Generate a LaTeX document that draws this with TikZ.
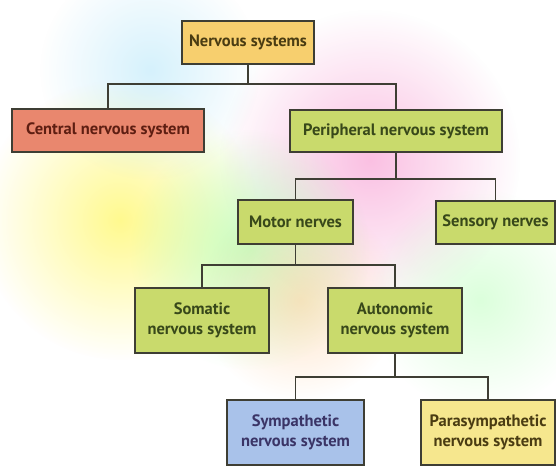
\documentclass[tikz,border=0pt]{standalone}
\usepackage{fontspec}
\setmainfont{PT Sans}
\usetikzlibrary{fadings}
\definecolor{edgec}{HTML}{3E3E34}
\definecolor{orangebox}{HTML}{F7CF6E}
\definecolor{redbox}{HTML}{E9876E}
\definecolor{greenbox}{HTML}{C9DA6C}
\definecolor{bluebox}{HTML}{A9C2EA}
\definecolor{yellowbox}{HTML}{F6E78E}
\definecolor{txtolive}{HTML}{4A3C12}
\definecolor{txtred}{HTML}{5E1E12}
\definecolor{txtgreen}{HTML}{38481A}
\definecolor{txtblue}{HTML}{3A3466}
\tikzfading[name=softfade, inner color=transparent!0, outer color=transparent!100]
\tikzset{
  box/.style={draw=edgec, line width=1.4pt, rectangle, inner sep=0pt,
    align=center, font=\fontsize{16.5}{19.5}\selectfont\bfseries},
  link/.style={draw=edgec, line width=1.4pt},
  blob/.style={path fading=softfade, opacity=0.55}
}
\begin{document}
\begin{tikzpicture}[x=1pt,y=-1pt]
\useasboundingbox (0,0) rectangle (556,470);
\fill[white] (0,0) rectangle (556,470);
% soft coloured background
\fill[blob, magenta!45] (370,160) circle (150);
\fill[blob, yellow!80] (120,220) circle (140);
\fill[blob, green!40] (250,250) circle (120);
\fill[blob, cyan!30] (150,70) circle (110);
\fill[blob, orange!40] (300,300) circle (100);
\fill[blob, green!25] (480,300) circle (110);

\node[box, fill=orangebox, text=txtolive, minimum width=132pt, minimum height=43pt] (ns) at (248,42.5) {Nervous systems};
\node[box, fill=redbox, text=txtred, minimum width=192pt, minimum height=43pt] (cns) at (108,130.5) {Central nervous system};
\node[box, fill=greenbox, text=txtgreen, minimum width=212pt, minimum height=42pt] (pns) at (396,131) {Peripheral nervous system};
\node[box, fill=greenbox, text=txtgreen, minimum width=115pt, minimum height=44pt] (mn) at (295.5,222) {Motor nerves};
\node[box, fill=greenbox, text=txtgreen, minimum width=119pt, minimum height=43pt] (sn) at (495.5,222.5) {Sensory nerves};
\node[box, fill=greenbox, text=txtgreen, minimum width=134pt, minimum height=65pt] (som) at (202,320.5) {Somatic\\nervous system};
\node[box, fill=greenbox, text=txtgreen, minimum width=134pt, minimum height=65pt] (ans) at (395,320.5) {Autonomic\\nervous system};
\node[box, fill=bluebox, text=txtblue, minimum width=137pt, minimum height=65pt] (sym) at (295.5,432.5) {Sympathetic\\nervous system};
\node[box, fill=yellowbox, text=txtolive, minimum width=134pt, minimum height=65pt] (psym) at (488,432.5) {Parasympathetic\\nervous system};

\coordinate (b1) at (248,84);
\coordinate (b2) at (396,179);
\coordinate (b3) at (295.5,265);
\coordinate (b4) at (395,377);

\draw[link] (ns.south) -- (b1);
\draw[link] (b1) -| (cns.north);
\draw[link] (b1) -| (pns.north);
\draw[link] (pns.south) -- (b2);
\draw[link] (b2) -| (mn.north);
\draw[link] (b2) -| (sn.north);
\draw[link] (mn.south) -- (b3);
\draw[link] (b3) -| (som.north);
\draw[link] (b3) -| (ans.north);
\draw[link] (ans.south) -- (b4);
\draw[link] (b4) -| (sym.north);
\draw[link] (b4) -| (psym.north);
\end{tikzpicture}
\end{document}
